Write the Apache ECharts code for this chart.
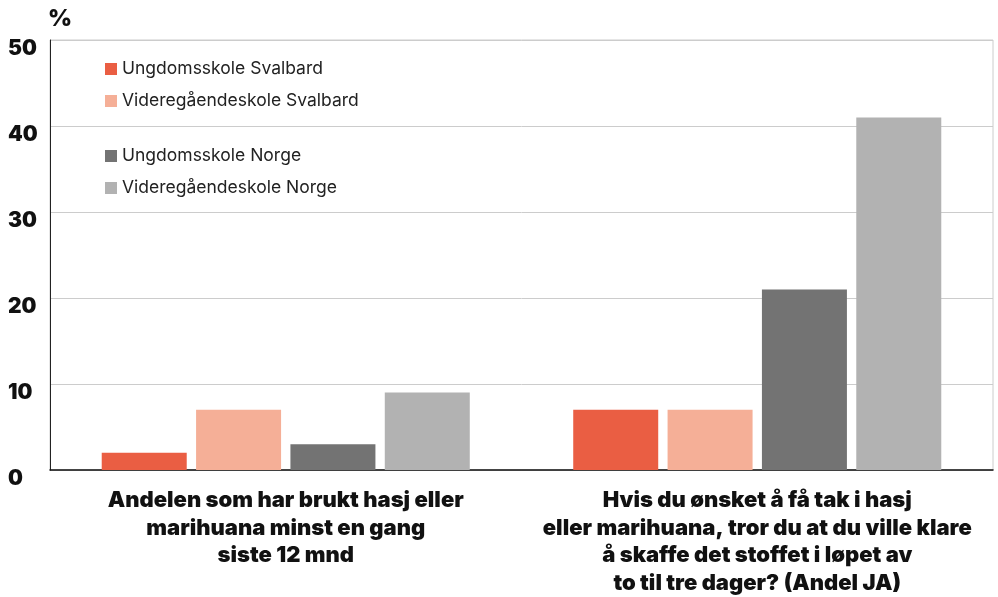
<!DOCTYPE html>
<html>
<head>
<meta charset="utf-8">
<script src="https://cdn.jsdelivr.net/npm/echarts@6/dist/echarts.min.js"></script>
<style>
  html, body { margin: 0; padding: 0; background: #fff; }
  #chart { width: 998px; height: 597px; }
</style>
</head>
<body>
<div id="chart"></div>
<script>
// data
const categories = [
  'Andelen som har brukt hasj eller\nmarihuana minst en gang\nsiste 12 mnd',
  'Hvis du ønsket å få tak i hasj\neller marihuana, tror du at du ville klare\nå skaffe det stoffet i løpet av\nto til tre dager? (Andel JA)'
]
const seriesNames = ['Ungdomsskole Svalbard', 'Videregåendeskole Svalbard', 'Ungdomsskole Norge', 'Videregåendeskole Norge']
const ungdomSvalbard = [2, 7]
const videregSvalbard = [7, 7]
const ungdomNorge = [3, 21]
const videregNorge = [9, 41]
const yTicks = [0, 10, 20, 30, 40, 50]

const colors = ['#EA5E43', '#F5AF97', '#737373', '#B2B2B2']
const values = [ungdomSvalbard, videregSvalbard, ungdomNorge, videregNorge]
const font = 'Inter'

const chart = echarts.init(document.getElementById('chart'))

const legendStyle = {
  left: 105,
  padding: 0,
  orient: 'vertical',
  icon: 'rect',
  itemWidth: 12,
  itemHeight: 12,
  itemGap: 12,
  textStyle: { fontFamily: font, fontSize: 17.5, color: '#222', lineHeight: 20 }
}

chart.setOption({
  animation: false,
  color: colors,
  title: {
    text: '%',
    left: 43,
    top: 3,
    textStyle: { fontFamily: font, fontSize: 23, fontWeight: 900, color: '#111' }
  },
  legend: [
    Object.assign({ top: 59, data: seriesNames.slice(0, 2) }, legendStyle),
    Object.assign({ top: 146, data: seriesNames.slice(2) }, legendStyle)
  ],
  grid: {
    left: 50, right: 5, top: 40, bottom: 126,
    show: true, borderColor: '#cccccc', borderWidth: 1
  },
  xAxis: {
    type: 'category',
    data: categories,
    axisLine: { lineStyle: { color: '#111', width: 1.5 } },
    axisTick: { inside: true, length: 10, lineStyle: { color: '#111' } },
    axisLabel: {
      interval: 0,
      margin: 17,
      fontFamily: font,
      fontSize: 22,
      fontWeight: 900,
      color: '#111',
      lineHeight: 27.5,
      align: 'center'
    }
  },
  yAxis: {
    type: 'value',
    min: yTicks[0],
    max: yTicks[yTicks.length - 1],
    interval: 10,
    axisLine: { show: true, lineStyle: { color: '#222', width: 1 } },
    axisTick: { show: false },
    splitLine: { lineStyle: { color: '#cccccc', width: 1 } },
    axisLabel: {
      margin: 42,
      align: 'left',
      verticalAlign: 'top',
      lineHeight: 18,
      fontFamily: font,
      fontSize: 21,
      fontWeight: 900,
      color: '#111'
    }
  },
  series: seriesNames.map((name, i) => ({
    name,
    type: 'bar',
    data: values[i],
    barWidth: 85,
    barGap: '11%',
    itemStyle: { color: colors[i] }
  }))
})
</script>
</body>
</html>
